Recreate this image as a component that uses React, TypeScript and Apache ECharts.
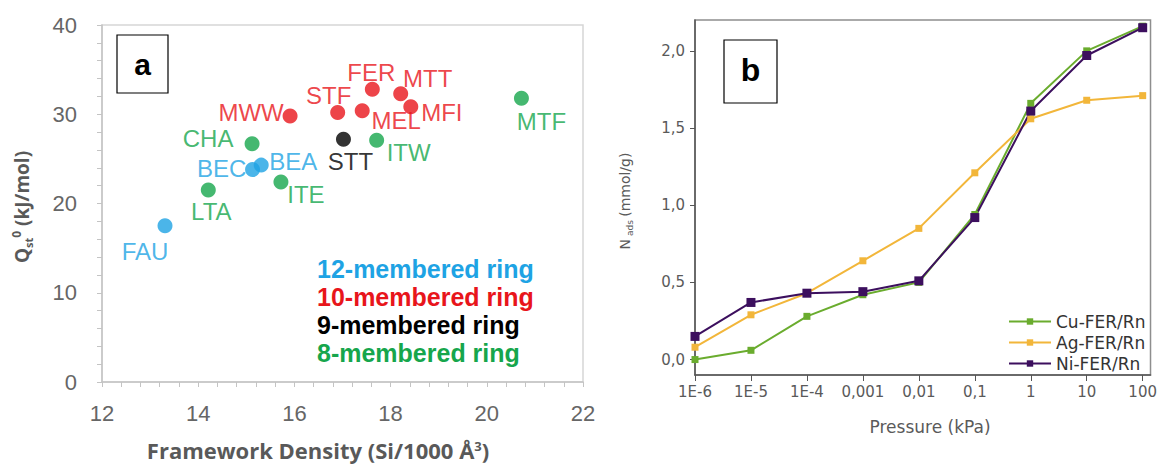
import React, { useEffect, useRef } from "react";
import * as echarts from "echarts";

// ---- Panel a data ----
const ring12Names = ["FAU", "BEC", "BEA"];
const ring12X = [13.31, 15.13, 15.31];
const ring12Y = [17.5, 23.8, 24.3];

const ring10Names = ["MWW", "STF", "MEL", "FER", "MTT", "MFI"];
const ring10X = [15.91, 16.9, 17.41, 17.62, 18.21, 18.42];
const ring10Y = [29.8, 30.2, 30.4, 32.8, 32.3, 30.85];

const ring9Names = ["STT"];
const ring9X = [17.02];
const ring9Y = [27.2];

const ring8Names = ["LTA", "CHA", "ITE", "ITW", "MTF"];
const ring8X = [14.21, 15.12, 15.72, 17.71, 20.72];
const ring8Y = [21.5, 26.7, 22.4, 27.1, 31.8];

const ringLegend = ["12-membered ring", "10-membered ring", "9-membered ring", "8-membered ring"];

// ---- Panel b data ----
const pressureLabels = ["1E-6", "1E-5", "1E-4", "0,001", "0,01", "0,1", "1", "10", "100"];
const pressureExp = [-6, -5, -4, -3, -2, -1, 0, 1, 2];
const cuFer = [0.0, 0.06, 0.28, 0.42, 0.5, 0.94, 1.66, 2.0, 2.16];
const agFer = [0.08, 0.29, 0.43, 0.64, 0.85, 1.21, 1.56, 1.68, 1.71];
const niFer = [0.15, 0.37, 0.43, 0.44, 0.51, 0.92, 1.61, 1.97, 2.15];
const nadsTicks = [0, 0.5, 1, 1.5, 2];
const seriesNamesB = ["Cu-FER/Rn", "Ag-FER/Rn", "Ni-FER/Rn"];

// label offsets (styling) for panel a points
const labelOffsets: Record<string, [number, number]> = {
  FAU: [-20, 26],
  LTA: [3, 21],
  CHA: [-44, -5],
  BEC: [-31, -1],
  BEA: [32, -4],
  ITE: [25, 12],
  MWW: [-39, -4],
  STF: [-9, -17],
  STT: [7, 22],
  MEL: [34, 10],
  ITW: [32, 12],
  FER: [-1, -17],
  MTT: [27, -15],
  MFI: [31, 6],
  MTF: [20, 23],
};

const BLUE = "#1ea3e4";
const RED = "#e8151b";
const BLACK = "#000000";
const GREEN = "#16a64c";

const CU = "#6aac2e";
const AG = "#f2b63a";
const NI = "#3c0f5e";

function scatterSeries(name: string, names: string[], xs: number[], ys: number[], color: string) {
  return {
    type: "scatter",
    name,
    xAxisIndex: 0,
    yAxisIndex: 0,
    symbol: "circle",
    symbolSize: 15,
    itemStyle: { color },
    data: names.map((n, i) => ({
      name: n,
      value: [xs[i], ys[i]],
      label: {
        show: true,
        position: "inside",
        offset: labelOffsets[n],
        formatter: "{b}",
        color,
        fontSize: 24,
        fontFamily: "Liberation Sans",
      },
    })),
  };
}

function lineSeries(name: string, vals: number[], color: string, size: number) {
  return {
    type: "line",
    name,
    xAxisIndex: 1,
    yAxisIndex: 1,
    symbol: "rect",
    symbolSize: size,
    lineStyle: { color, width: 2 },
    itemStyle: { color },
    data: pressureExp.map((e, i) => [e, vals[i]]),
  };
}

export default function App() {
  const ref = useRef<HTMLDivElement>(null);
  useEffect(() => {
    if (!ref.current) return;
    const chart = echarts.init(ref.current, undefined, { renderer: "svg" });
    const grayText = "#666666";
    const option: any = {
      animation: false,
      backgroundColor: "#ffffff",
      grid: [
        {
          left: 102,
          top: 25,
          width: 481,
          height: 357,
          show: true,
          borderColor: "#d6d6d6",
          borderWidth: 1.5,
        },
        {
          left: 695,
          top: 20,
          width: 458,
          height: 355,
          show: true,
          borderColor: "#8e8e8e",
          borderWidth: 1.5,
        },
      ],
      xAxis: [
        {
          type: "value",
          gridIndex: 0,
          min: 12,
          max: 22,
          interval: 2,
          axisLine: { show: true, onZero: false, lineStyle: { color: "#c4c4c4", width: 1.5 } },
          axisTick: { show: true, length: 5, lineStyle: { color: "#c4c4c4" } },
          minorTick: { show: true, splitNumber: 5, length: 5, lineStyle: { color: "#c4c4c4" } },
          splitLine: { show: false },
          axisLabel: { fontSize: 22, color: grayText, margin: 20, fontFamily: "Liberation Sans" },
        },
        {
          type: "value",
          gridIndex: 1,
          min: -6,
          max: 2.14,
          axisLine: { show: true, onZero: false, lineStyle: { color: "#555555", width: 1.5 } },
          axisTick: { show: true, length: 6, customValues: pressureExp, lineStyle: { color: "#555555" } },
          splitLine: { show: false },
          axisLabel: {
            customValues: pressureExp,
            fontSize: 15,
            color: "#5a5a5a",
            margin: 9,
            fontFamily: "DejaVu Sans",
            formatter: (v: number) => {
              const i = pressureExp.indexOf(Math.round(v));
              return i >= 0 ? pressureLabels[i] : "";
            },
          },
        },
      ],
      yAxis: [
        {
          type: "value",
          gridIndex: 0,
          min: 0,
          max: 40,
          interval: 10,
          axisLine: { show: true, onZero: false, lineStyle: { color: "#c4c4c4", width: 1.5 } },
          axisTick: { show: true, length: 5, lineStyle: { color: "#c4c4c4" } },
          minorTick: { show: true, splitNumber: 5, length: 5, lineStyle: { color: "#c4c4c4" } },
          splitLine: { show: false },
          axisLabel: { fontSize: 22, color: grayText, margin: 25, fontFamily: "Liberation Sans" },
        },
        {
          type: "value",
          gridIndex: 1,
          min: -0.1,
          max: 2.2,
          axisLine: { show: true, onZero: false, lineStyle: { color: "#555555", width: 1.5 } },
          axisTick: { show: true, length: 5, customValues: nadsTicks, lineStyle: { color: "#555555" } },
          splitLine: { show: false },
          axisLabel: {
            customValues: nadsTicks,
            fontSize: 15,
            color: "#5a5a5a",
            margin: 10,
            fontFamily: "DejaVu Sans",
            formatter: (v: number) => v.toFixed(1).replace(".", ","),
          },
        },
      ],
      legend: [
        {
          orient: "vertical",
          left: 307,
          top: 250,
          itemWidth: 0,
          itemHeight: 0,
          itemGap: 0,
          selectedMode: false,
          data: [
            { name: ringLegend[0], icon: "none", textStyle: { color: BLUE } },
            { name: ringLegend[1], icon: "none", textStyle: { color: RED } },
            { name: ringLegend[2], icon: "none", textStyle: { color: BLACK } },
            { name: ringLegend[3], icon: "none", textStyle: { color: GREEN } },
          ],
          textStyle: { fontSize: 25, fontWeight: "bold", fontFamily: "Liberation Sans", lineHeight: 28, height: 28, padding: 0 },
        },
        {
          orient: "vertical",
          left: 1003,
          top: 308,
          itemWidth: 42,
          itemHeight: 8,
          itemGap: 4,
          selectedMode: false,
          data: seriesNamesB,
          textStyle: { fontSize: 17, color: "#333333", fontFamily: "DejaVu Sans" },
        },
      ],
      series: [
        scatterSeries(ringLegend[0], ring12Names, ring12X, ring12Y, BLUE),
        scatterSeries(ringLegend[1], ring10Names, ring10X, ring10Y, RED),
        scatterSeries(ringLegend[2], ring9Names, ring9X, ring9Y, BLACK),
        scatterSeries(ringLegend[3], ring8Names, ring8X, ring8Y, GREEN),
        lineSeries(seriesNamesB[0], cuFer, CU, 7),
        lineSeries(seriesNamesB[1], agFer, AG, 7),
        lineSeries(seriesNamesB[2], niFer, NI, 9),
      ],
      graphic: [
        {
          type: "rect",
          shape: { x: 117, y: 35, width: 51, height: 58 },
          style: { fill: "#fff", stroke: "#000", lineWidth: 1.2 },
          z: 100,
        },
        {
          type: "text",
          x: 142.5,
          y: 64,
          style: { text: "a", fontSize: 30, fontWeight: "bold", fontFamily: "Liberation Sans", fill: "#000", align: "center", verticalAlign: "middle" },
          z: 101,
        },
        {
          type: "rect",
          shape: { x: 724, y: 40, width: 53, height: 63 },
          style: { fill: "#fff", stroke: "#000", lineWidth: 1.2 },
          z: 100,
        },
        {
          type: "text",
          x: 750.5,
          y: 70,
          style: { text: "b", fontSize: 32, fontWeight: "bold", fontFamily: "Liberation Sans", fill: "#000", align: "center", verticalAlign: "middle" },
          z: 101,
        },
        {
          type: "text",
          x: 318,
          y: 450,
          style: {
            text: "Framework Density (Si/1000 Å{sup|3})",
            fontSize: 22,
            fontWeight: "bold",
            fontFamily: "Open Sans",
            fill: "#595959",
            align: "center",
            verticalAlign: "middle",
            rich: {
              sup: { fontSize: 13, fontWeight: "bold", fontFamily: "Open Sans", fill: "#595959", verticalAlign: "top", padding: [0, 0, 9, 0] },
            },
          },
        },
        {
          type: "text",
          x: 22,
          y: 207,
          rotation: Math.PI / 2,
          style: {
            text: "{m|Q}{sub|st}{sup|0}{m| (kJ/mol)}",
            align: "center",
            verticalAlign: "middle",
            rich: {
              m: { fontSize: 19, fontWeight: "bold", fontFamily: "Open Sans", fill: "#595959", lineHeight: 24 },
              sub: { fontSize: 11, fontWeight: "bold", fontFamily: "Open Sans", fill: "#595959", lineHeight: 24, verticalAlign: "bottom", padding: [6, 0, 0, 0] },
              sup: { fontSize: 12, fontWeight: "bold", fontFamily: "Open Sans", fill: "#595959", lineHeight: 24, verticalAlign: "top", padding: [0, 0, 6, 0] },
            },
          },
        },
        {
          type: "text",
          x: 930,
          y: 427,
          style: { text: "Pressure (kPa)", fontSize: 17, fontFamily: "DejaVu Sans", fill: "#5a5a5a", align: "center", verticalAlign: "middle" },
        },
        {
          type: "text",
          x: 625,
          y: 201,
          rotation: Math.PI / 2,
          style: {
            text: "{m|N}{sub| ads} {m|(mmol/g)}",
            align: "center",
            verticalAlign: "middle",
            rich: {
              m: { fontSize: 14, fontFamily: "DejaVu Sans", fill: "#5a5a5a", lineHeight: 18 },
              sub: { fontSize: 9, fontFamily: "DejaVu Sans", fill: "#5a5a5a", lineHeight: 18, verticalAlign: "bottom" },
            },
          },
        },
      ],
    };
    chart.setOption(option);
    return () => chart.dispose();
  }, []);
  return (
    <div
      ref={ref}
      style={{ position: "absolute", left: 0, top: 0, width: 1160, height: 466 }}
    />
  );
}
